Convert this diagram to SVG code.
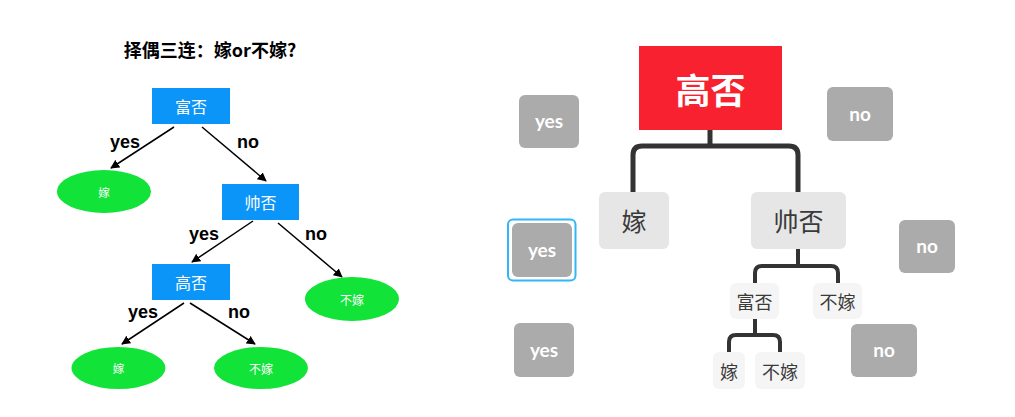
<svg xmlns="http://www.w3.org/2000/svg" width="1015" height="417" viewBox="0 0 1015 417">
<style>
.cjk{font-family:"Noto Sans CJK SC","Noto Sans",sans-serif}
.blue{fill:#0b95f8}
.green{fill:#12e338}
.wt{fill:#fff;text-anchor:middle;dominant-baseline:central}
.lbl{font-family:"Liberation Sans",Arial,sans-serif;font-weight:bold;font-size:18px;fill:#000;text-anchor:middle;dominant-baseline:central}
.arr{stroke:#000;stroke-width:1.5;fill:none;marker-end:url(#ah)}
.gray{fill:#ababab}
.gt{font-family:Lato,"Open Sans",sans-serif;font-weight:bold;font-size:19px;fill:#fff;text-anchor:middle;dominant-baseline:central}
.tree{stroke:#333;fill:none;stroke-linecap:butt}
.dk{fill:#3a3a3a;text-anchor:middle;dominant-baseline:central}
</style>
<defs>
<marker id="ah" viewBox="0 0 10 10" refX="9" refY="5" markerWidth="9" markerHeight="9" orient="auto" markerUnits="userSpaceOnUse">
<path d="M0,0 L10,5 L0,10 z" fill="#000"/>
</marker>
</defs>
<rect width="1015" height="417" fill="#fff"/>
<text x="210" y="49" class="cjk" font-size="18" font-weight="bold" text-anchor="middle" dominant-baseline="central" fill="#000">择偶三连：嫁or不嫁?</text>

<g id="connectors">
<path class="arr" d="M174,127 L111,168"/>
<path class="arr" d="M202,127 L266,181"/>
<path class="arr" d="M253,221 L192,262"/>
<path class="arr" d="M278,223 L342,277"/>
<path class="arr" d="M184,303 L122,344"/>
<path class="arr" d="M190,303 L255,344"/>
<text class="lbl" x="125" y="142">yes</text>
<text class="lbl" x="248" y="142">no</text>
<text class="lbl" x="204" y="234">yes</text>
<text class="lbl" x="316" y="234">no</text>
<text class="lbl" x="143" y="312">yes</text>
<text class="lbl" x="239" y="312">no</text>
<path class="tree" stroke-width="5" d="M710,130 V146 M633,192 V155 Q633,146 642,146 H789 Q798,146 798,155 V192"/>
<path class="tree" stroke-width="4" d="M798,249 V266 M755,283 V273 Q755,266 762,266 H831 Q838,266 838,273 V283"/>
<path class="tree" stroke-width="4" d="M755,319 V335 M729,352 V342 Q729,335 736,335 H773 Q780,335 780,342 V352"/>
</g>

<g id="n-fu"><rect class="blue" x="152" y="88" width="78" height="36"/><text class="cjk wt" x="191" y="106" font-size="16">富否</text></g>
<g id="n-jia1"><ellipse class="green" cx="104" cy="191.5" rx="47" ry="21.5"/><text class="cjk wt" x="104" y="191.5" font-size="11.5">嫁</text></g>
<g id="n-shuai"><rect class="blue" x="222" y="184" width="77" height="36"/><text class="cjk wt" x="260.5" y="202" font-size="16">帅否</text></g>
<g id="n-gao"><rect class="blue" x="152" y="264" width="78" height="36"/><text class="cjk wt" x="191" y="282" font-size="16">高否</text></g>
<g id="n-bujia1"><ellipse class="green" cx="352" cy="299" rx="47" ry="22"/><text class="cjk wt" x="352" y="299" font-size="12">不嫁</text></g>
<g id="n-jia2"><ellipse class="green" cx="118.5" cy="368" rx="47" ry="21"/><text class="cjk wt" x="118.5" y="368" font-size="11.5">嫁</text></g>
<g id="n-bujia2"><ellipse class="green" cx="261" cy="368" rx="47" ry="21"/><text class="cjk wt" x="261" y="368" font-size="12">不嫁</text></g>

<g id="r-gao"><rect x="639" y="46" width="143" height="84" fill="#f7212f"/><text class="cjk wt" x="710.5" y="88" font-size="35" font-weight="bold">高否</text></g>
<g id="r-jia"><rect x="599" y="192" width="70" height="57" rx="6" fill="#e6e6e6"/><text class="cjk dk" x="634" y="220" font-size="25">嫁</text></g>
<g id="r-shuai"><rect x="751" y="192" width="95" height="57" rx="6" fill="#e6e6e6"/><text class="cjk dk" x="798.5" y="220" font-size="25">帅否</text></g>
<g id="r-fu"><rect x="730" y="283" width="49" height="36" rx="6" fill="#f5f5f5"/><text class="cjk dk" x="754.5" y="301" font-size="18">富否</text></g>
<g id="r-bujia1"><rect x="813" y="283" width="49" height="36" rx="6" fill="#f5f5f5"/><text class="cjk dk" x="837.5" y="301" font-size="18">不嫁</text></g>
<g id="r-jia2"><rect x="713" y="352" width="32" height="37" rx="6" fill="#f5f5f5"/><text class="cjk dk" x="729" y="370.5" font-size="18">嫁</text></g>
<g id="r-bujia2"><rect x="755" y="352" width="50" height="37" rx="6" fill="#f5f5f5"/><text class="cjk dk" x="780" y="370.5" font-size="18">不嫁</text></g>

<g id="yes1"><rect class="gray" x="519" y="95" width="60" height="53" rx="6"/><text class="gt" x="549" y="120.5">yes</text></g>
<g id="no1"><rect class="gray" x="827" y="87" width="66" height="54" rx="6"/><text class="gt" x="860" y="113">no</text></g>
<g id="yes2"><rect x="508" y="219.5" width="67.5" height="61" rx="5" fill="none" stroke="#2fb8f5" stroke-width="2"/><rect class="gray" x="512" y="223" width="60" height="54" rx="6"/><text class="gt" x="542" y="249">yes</text></g>
<g id="no2"><rect class="gray" x="899" y="220" width="56" height="53" rx="6"/><text class="gt" x="927" y="245.5">no</text></g>
<g id="yes3"><rect class="gray" x="514" y="323" width="60" height="54" rx="6"/><text class="gt" x="544" y="349">yes</text></g>
<g id="no3"><rect class="gray" x="851" y="324" width="66" height="53" rx="6"/><text class="gt" x="884" y="349.5">no</text></g>
</svg>
